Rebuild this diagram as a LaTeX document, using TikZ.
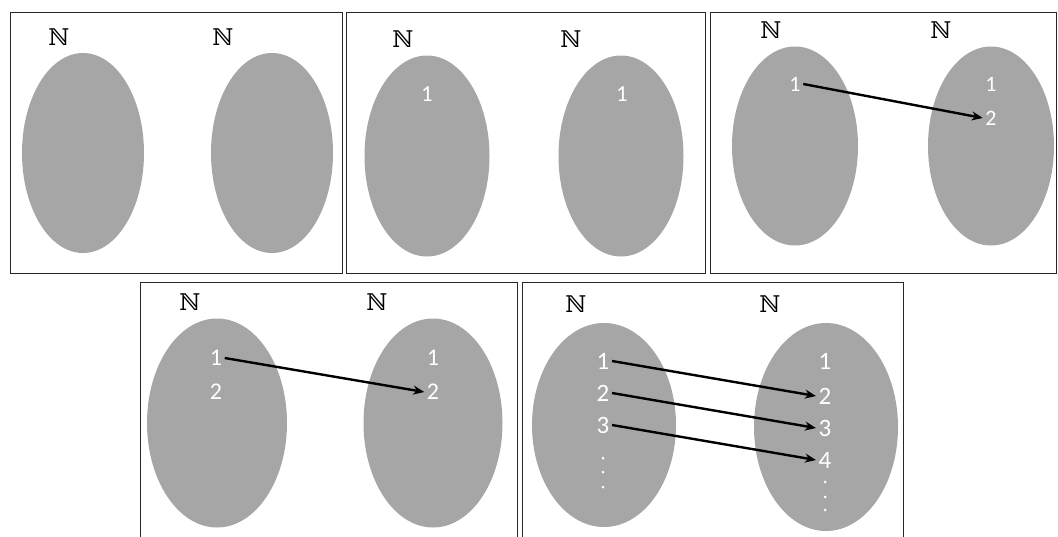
\documentclass[tikz,border=0pt]{standalone}
\usepackage{fontspec}
\newfontfamily\numfont{Carlito}
\newfontfamily\bbfont{DejaVu Serif}
\usetikzlibrary{shapes.geometric,arrows.meta}
\definecolor{setgray}{HTML}{A6A6A6}
\begin{document}
\begin{tikzpicture}[x=1pt,y=-1pt,
  panel/.style={draw=black!85, line width=0.9pt},
  setshape/.style={ellipse, fill=setgray, draw=none, inner sep=0pt},
  num/.style={text=white, inner sep=2.5pt, font=\numfont\fontsize{#1}{#1}\selectfont},
  num/.default=24,
  bb/.style={inner sep=0pt, font=\bbfont\fontsize{23}{23}\selectfont},
  dotmark/.style={circle, fill=white, draw=none, inner sep=0pt, minimum size=3pt},
  arr/.style={line width=2.4pt, -{Stealth[length=11pt,width=9pt]}}
]
\useasboundingbox (0,0) rectangle (1058,536);
\clip (0,0) rectangle (1058,536);

% ---------- Panel 1 ----------
\draw[panel] (10,12) rectangle (342,273);
\node[setshape, minimum width=122, minimum height=200] (p1l) at (83,153) {};
\node[setshape, minimum width=122, minimum height=200] (p1r) at (272,153) {};
\node[bb] (p1nl) at (59,37) {ℕ};
\node[bb] (p1nr) at (223,37) {ℕ};

% ---------- Panel 2 ----------
\draw[panel] (346,12) rectangle (705,273);
\node[setshape, minimum width=125, minimum height=201] (p2l) at (427,156) {};
\node[setshape, minimum width=125, minimum height=201] (p2r) at (621,156) {};
\node[bb] (p2nl) at (403,39) {ℕ};
\node[bb] (p2nr) at (571,39) {ℕ};
\node[num=23] (p2a1) at (427,94) {1};
\node[num=23] (p2b1) at (622,94) {1};

% ---------- Panel 3 ----------
\draw[panel] (710,12) rectangle (1056,273);
\node[setshape, minimum width=126, minimum height=199] (p3l) at (795,146) {};
\node[setshape, minimum width=126, minimum height=199] (p3r) at (991,146) {};
\node[bb] (p3nl) at (771,30) {ℕ};
\node[bb] (p3nr) at (941,30) {ℕ};
\node[num=22] (p3a1) at (795,84) {1};
\node[num=22] (p3b1) at (991,84) {1};
\node[num=22] (p3b2) at (991,118) {2};
\draw[arr] (p3a1.east) -- (p3b2.west);

% ---------- Panel 4 ----------
\draw[panel] (140,282) rectangle (517,545);
\node[setshape, minimum width=140, minimum height=209] (p4l) at (217,423) {};
\node[setshape, minimum width=139, minimum height=209] (p4r) at (433,423) {};
\node[bb] (p4nl) at (190,302) {ℕ};
\node[bb] (p4nr) at (377,302) {ℕ};
\node[num=24] (p4a1) at (216,358) {1};
\node[num=24] (p4a2) at (216,392) {2};
\node[num=24] (p4b1) at (433,358) {1};
\node[num=24] (p4b2) at (433,392) {2};
\draw[arr] (p4a1.east) -- (p4b2.west);

% ---------- Panel 5 ----------
\draw[panel] (522,282) rectangle (903,545);
\node[setshape, minimum width=144, minimum height=204] (p5l) at (604,425) {};
\node[setshape, minimum width=144, minimum height=208] (p5r) at (826,427) {};
\node[bb] (p5nl) at (576,304) {ℕ};
\node[bb] (p5nr) at (770,304) {ℕ};
\node[num=25] (p5a1) at (603,361) {1};
\node[num=25] (p5a2) at (603,393) {2};
\node[num=25] (p5a3) at (603,425) {3};
\node[dotmark] (p5ad1) at (603,458) {};
\node[dotmark] (p5ad2) at (603,472) {};
\node[dotmark] (p5ad3) at (603,487) {};
\node[num=25] (p5b1) at (825,361) {1};
\node[num=25] (p5b2) at (825,396) {2};
\node[num=25] (p5b3) at (825,428) {3};
\node[num=25] (p5b4) at (825,460) {4};
\node[dotmark] (p5bd1) at (825,482) {};
\node[dotmark] (p5bd2) at (825,497) {};
\node[dotmark] (p5bd3) at (825,510) {};
\draw[arr] (p5a1.east) -- (p5b2.west);
\draw[arr] (p5a2.east) -- (p5b3.west);
\draw[arr] (p5a3.east) -- (p5b4.west);
\end{tikzpicture}
\end{document}
